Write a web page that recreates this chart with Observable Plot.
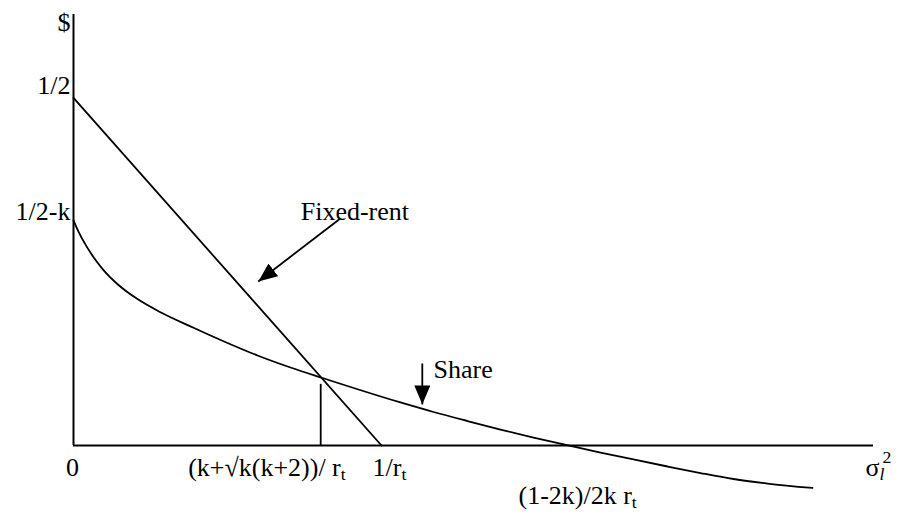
<!DOCTYPE html>
<html>
<head>
<meta charset="utf-8">
<script src="https://cdn.jsdelivr.net/npm/d3@7"></script>
<script src="https://cdn.jsdelivr.net/npm/@observablehq/plot@0.6"></script>
<style>
  html, body { margin: 0; padding: 0; background: white; }
</style>
</head>
<body>
<div id="chart"></div>
<script>
// ---- data (in chart units) ----
const xDomain = [0, 10];
const yDomain = [0, 0.62];

// Fixed-rent line
const fixedX = [0, 3.85];
const fixedY = [0.5, 0];

// Share curve
const shareX = [0, 0.0625, 0.1375, 0.2375, 0.375, 0.5625, 0.8, 1.0875, 1.5, 1.875, 2.3, 2.7125, 3.1125, 4.0875, 4.5, 4.925, 5.3375, 5.75, 6.2125, 6.5875, 7.0, 7.425, 7.8375, 8.25, 8.675, 9.2375];
const shareY = [0.3237, 0.3078, 0.2914, 0.2730, 0.2524, 0.2309, 0.2106, 0.1917, 0.1694, 0.1500, 0.1295, 0.1122, 0.0971, 0.0619, 0.0482, 0.0352, 0.0230, 0.0115, -0.0007, -0.0101, -0.0201, -0.0302, -0.0396, -0.0482, -0.0547, -0.0611];

// vertical drop line at intersection
const crossX = [3.09];
const crossTop = [0.088];

// annotation arrows
const arrowX1 = [3.34, 4.36];
const arrowY1 = [0.327, 0.118];
const arrowX2 = [2.31, 4.36];
const arrowY2 = [0.236, 0.059];

// annotation labels
const annoLabels = ["Fixed-rent", "Share"];
const annoX = [2.84, 4.5];
const annoY = [0.3237, 0.0978];

// tick labels
const yTicks = [0.5, 0.3237];
const yTickLabels = ["1/2", "1/2-k"];
const yAxisLabel = "$";
const xTicks = [0, 3.09, 3.85, 6.2];
const xTickLabels = ["0", "(k+√k(k+2))/ r_t", "1/r_t", "(1-2k)/2k r_t"];
const xAxisLabel = "σ_l^2";

// ---- build tables ----
const fixed = fixedX.map((x, i) => ({x, y: fixedY[i]}));
const share = shareX.map((x, i) => ({x, y: shareY[i]}));
const arrows = arrowX1.map((x1, i) => ({x1, y1: arrowY1[i], x2: arrowX2[i], y2: arrowY2[i]}));
const annos = annoLabels.map((t, i) => ({t, x: annoX[i], y: annoY[i]}));

const font = "'Liberation Serif', 'Times New Roman', Times, serif";
const fs = 26;
const lw = 1.8;

function xLabel(i, anchor, dx, dy) {
  return Plot.text([i], {x: j => xTicks[j], y: () => 0, text: j => xTickLabels[j],
    textAnchor: anchor, lineAnchor: "bottom", dx, dy, fontSize: fs, fill: "black"});
}
function yLabel(i, dy) {
  return Plot.text([i], {x: () => 0, y: j => yTicks[j], text: j => yTickLabels[j],
    textAnchor: "end", lineAnchor: "bottom", dx: -3, dy, fontSize: fs, fill: "black"});
}

const chart = Plot.plot({
  width: 901,
  height: 515,
  marginLeft: 73,
  marginRight: 28,
  marginTop: 14,
  marginBottom: 70,
  x: {domain: xDomain, axis: null},
  y: {domain: yDomain, axis: null},
  style: {fontFamily: font, fontSize: fs + "px", background: "white", color: "black", overflow: "visible"},
  marks: [
    Plot.ruleX([0], {y1: yDomain[0], y2: yDomain[1], stroke: "black", strokeWidth: 2}),
    Plot.ruleY([0], {x1: xDomain[0], x2: xDomain[1], stroke: "black", strokeWidth: 2}),
    Plot.line(fixed, {x: "x", y: "y", stroke: "black", strokeWidth: lw}),
    Plot.line(share, {x: "x", y: "y", curve: "monotone-x", stroke: "black", strokeWidth: lw}),
    Plot.ruleX(crossX, {x: d => d, y1: 0, y2: (d, i) => crossTop[i], stroke: "black", strokeWidth: lw}),
    Plot.link(arrows, {x1: "x1", y1: "y1", x2: "x2", y2: "y2", stroke: "black", strokeWidth: lw}),
    Plot.text(annos, {x: "x", y: "y", text: "t", textAnchor: "start", lineAnchor: "bottom", fontSize: fs, fill: "black"}),
    yLabel(0, -4),
    yLabel(1, 0),
    Plot.text([yAxisLabel], {x: () => 0, y: () => yDomain[1], text: d => d, textAnchor: "end", lineAnchor: "bottom", dx: -3, dy: 16, fontSize: fs, fill: "black"}),
    xLabel(0, "middle", -1, 30),
    xLabel(1, "end", 25, 30),
    xLabel(2, "start", -9, 30),
    xLabel(3, "start", -51, 58),
    Plot.text([xAxisLabel], {x: () => xDomain[1], y: () => 0, text: d => d, textAnchor: "start", lineAnchor: "bottom", dx: -8, dy: 30, fontSize: fs, fill: "black"})
  ]
});

// filled triangular arrowheads
const ns = "http://www.w3.org/2000/svg";
const svg = chart;
const defs = document.createElementNS(ns, "defs");
const marker = document.createElementNS(ns, "marker");
marker.setAttribute("id", "tri-head");
marker.setAttribute("viewBox", "0 0 10 10");
marker.setAttribute("refX", "10");
marker.setAttribute("refY", "5");
marker.setAttribute("markerWidth", "19");
marker.setAttribute("markerHeight", "16");
marker.setAttribute("markerUnits", "userSpaceOnUse");
marker.setAttribute("preserveAspectRatio", "none");
marker.setAttribute("orient", "auto");
const mp = document.createElementNS(ns, "path");
mp.setAttribute("d", "M0,0L10,5L0,10Z");
mp.setAttribute("fill", "black");
mp.setAttribute("stroke", "none");
marker.appendChild(mp);
defs.appendChild(marker);
svg.insertBefore(defs, svg.firstChild);
svg.querySelectorAll('g[aria-label="link"] path, g[aria-label="link"] line').forEach(p => p.setAttribute("marker-end", "url(#tri-head)"));

// rich text: _x subscript, ^x superscript
svg.querySelectorAll("text").forEach(el => {
  const s = el.textContent;
  if (!/[_^]/.test(s)) return;
  el.textContent = "";
  let shift = 0, buf = "", prevSub = false;
  const add = (txt, newShift, opts = {}) => {
    const t = document.createElementNS(ns, "tspan");
    const d = newShift - shift;
    if (d) t.setAttribute("dy", d);
    if (opts.dx) t.setAttribute("dx", opts.dx);
    if (opts.small) t.setAttribute("font-size", (fs * 0.68).toFixed(1));
    if (opts.italic) t.setAttribute("font-style", "italic");
    t.textContent = txt;
    el.appendChild(t);
    shift = newShift;
  };
  for (let i = 0; i < s.length; i++) {
    const c = s[i];
    if ((c === "_" || c === "^") && i + 1 < s.length) {
      if (buf) { add(buf, 0); buf = ""; }
      const ch = s[++i];
      if (c === "_") { add(ch, 4, {small: true, italic: ch === "l"}); prevSub = true; }
      else { add(ch, -13, {small: true, dx: prevSub ? -2 : 0}); prevSub = false; }
    } else { buf += c; prevSub = false; }
  }
  if (buf) add(buf, 0);
});

document.getElementById("chart").appendChild(chart);
</script>
</body>
</html>
